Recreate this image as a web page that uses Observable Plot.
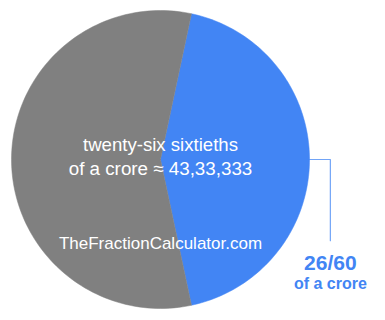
<!DOCTYPE html>
<html>
<head>
<meta charset="utf-8">
<script src="https://cdn.jsdelivr.net/npm/d3@7"></script>
<script src="https://cdn.jsdelivr.net/npm/@observablehq/plot@0.6"></script>
<style>
  html, body { margin: 0; padding: 0; background: #fff; }
  #chart svg { display: block; }
</style>
</head>
<body>
<div id="chart"></div>
<script>
// ---- data ----
const sliceNames = ["twenty-six sixtieths", "remainder"];
const sliceValues = [26, 34];
const sliceColors = ["#4285F4", "#808080"];
const centerLines = ["twenty-six sixtieths", "of a crore ≈ 43,33,333"];
const watermark = ["TheFractionCalculator.com"];
const calloutLines = ["26/60", "of a crore"];

// ---- geometry from data via d3.pie ----
const total = d3.sum(sliceValues);
const start = Math.PI / 2 - (sliceValues[0] / total) * Math.PI; // first slice centred on 3 o'clock
const arcs = d3.pie().sort(null).startAngle(start).endAngle(start + 2 * Math.PI)(sliceValues);

const pts = [];
arcs.forEach((a, i) => {
  pts.push({slice: sliceNames[i], color: sliceColors[i], x: 0, y: 0});
  const n = 120;
  for (let k = 0; k <= n; k++) {
    const t = a.startAngle + (a.endAngle - a.startAngle) * k / n;
    pts.push({slice: sliceNames[i], color: sliceColors[i], x: Math.sin(t), y: Math.cos(t)});
  }
  pts.push({slice: sliceNames[i], color: sliceColors[i], x: 0, y: 0});
});

// callout leader from the middle of the first slice
const mid = (arcs[0].startAngle + arcs[0].endAngle) / 2;
const mx = Math.sin(mid), my = Math.cos(mid);
const leader = [
  {x: mx, y: my},
  {x: mx * 1.14, y: my},
  {x: mx * 1.14, y: my - 0.545}
];

const font = "'Liberation Sans', Arial, Helvetica, sans-serif";

const chart = Plot.plot({
  width: 385,
  height: 320,
  margin: 0,
  style: {fontFamily: font, background: "#fff"},
  x: {domain: [-1, 1], range: [11, 309], axis: null},
  y: {domain: [-1, 1], range: [308, 10], axis: null},
  color: {type: "identity"},
  marks: [
    Plot.line(pts, {x: "x", y: "y", z: "slice", fill: "color", stroke: "color", strokeWidth: 0.5, curve: "linear-closed"}),
    Plot.line(leader, {x: "x", y: "y", stroke: sliceColors[0], strokeWidth: 1.2, strokeOpacity: 0.75}),
    Plot.text([centerLines[0]], {x: 0, y: 0.06, text: d => d, fill: "white", fontSize: 18.6, lineAnchor: "bottom"}),
    Plot.text([centerLines[1]], {x: 0, y: -0.107, text: d => d, fill: "white", fontSize: 18.8, lineAnchor: "bottom"}),
    Plot.text(watermark, {x: 0, y: -0.604, text: d => d, fill: "white", fontSize: 17, lineAnchor: "bottom"}),
    Plot.text([calloutLines[0]], {x: mx * 1.14, y: my - 0.742, text: d => d, fill: sliceColors[0], fontSize: 21, fontWeight: "bold", lineAnchor: "bottom"}),
    Plot.text([calloutLines[1]], {x: mx * 1.14, y: my - 0.87, text: d => d, fill: sliceColors[0], fontSize: 16, fontWeight: "bold", lineAnchor: "bottom"})
  ]
});
document.getElementById("chart").appendChild(chart);
</script>
</body>
</html>
